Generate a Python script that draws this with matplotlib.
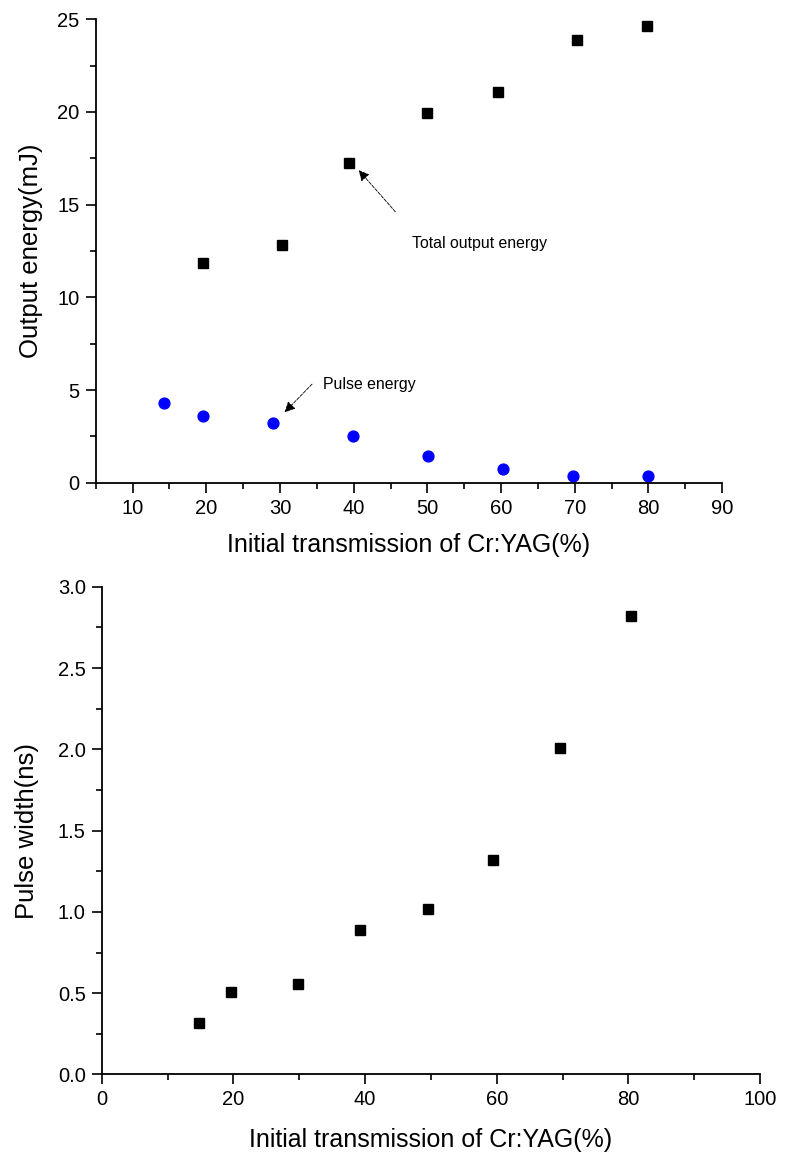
import matplotlib
matplotlib.use("Agg")
import matplotlib.pyplot as plt
from matplotlib.ticker import MultipleLocator

plt.rcParams["font.family"] = ["Liberation Sans", "DejaVu Sans"]

# top panel: output energy vs initial transmission
total_x = [19.6, 30.3, 39.4, 50.0, 59.6, 70.3, 79.8]
total_energy = [11.86, 12.8, 17.25, 19.93, 21.05, 23.9, 24.62]

pulse_x = [14.3, 19.6, 29.1, 39.9, 50.05, 60.2, 69.7, 79.9]
pulse_energy = [4.31, 3.6, 3.23, 2.52, 1.46, 0.72, 0.38, 0.38]

# bottom panel: pulse width vs initial transmission
width_x = [14.7, 19.6, 29.8, 39.2, 49.5, 59.5, 69.6, 80.4]
pulse_width = [0.315, 0.51, 0.557, 0.889, 1.018, 1.32, 2.008, 2.82]

xlabel = "Initial transmission of Cr:YAG(%)"


def style_axes(ax):
    for side in ("top", "right"):
        ax.spines[side].set_visible(False)
    for side in ("left", "bottom"):
        ax.spines[side].set_linewidth(1.3)
    ax.tick_params(which="major", direction="out", length=7.5, width=1.2,
                   labelsize=14.5, pad=4)
    ax.tick_params(which="minor", direction="out", length=4.5, width=1.2)


fig = plt.figure(figsize=(7.95, 11.53), dpi=100)

# ---- top ----
ax1 = fig.add_axes([0.1204, 0.5813, 0.788, 0.402])
ax1.plot(total_x, total_energy, "s", color="black", markersize=7.2, clip_on=False)
ax1.plot(pulse_x, pulse_energy, "o", color="blue", markersize=7.8, clip_on=False)
ax1.set_xlim(5, 90)
ax1.set_ylim(0, 25)
ax1.xaxis.set_major_locator(MultipleLocator(10))
ax1.xaxis.set_minor_locator(MultipleLocator(5))
ax1.yaxis.set_major_locator(MultipleLocator(5))
ax1.yaxis.set_minor_locator(MultipleLocator(2.5))
style_axes(ax1)
ax1.set_xlabel(xlabel, fontsize=18)
ax1.set_ylabel("Output energy(mJ)", fontsize=18.5)
ax1.xaxis.set_label_coords(0.5, -0.134)
ax1.xaxis.label.set_va("center")
ax1.yaxis.set_label_coords(-0.103, 0.5)
ax1.yaxis.label.set_va("center")

arrow = dict(arrowstyle="-|>", linestyle=(0, (4, 1.5)), lw=0.6, color="black",
             mutation_scale=16, shrinkA=0, shrinkB=0)
ax1.annotate("", xy=(40.68, 16.86), xytext=(45.67, 14.61), arrowprops=arrow)
ax1.text(47.9, 12.9, "Total output energy", fontsize=11.4, va="center", ha="left")
ax1.annotate("", xy=(30.63, 3.8), xytext=(34.35, 5.32), arrowprops=arrow)
ax1.text(35.8, 5.32, "Pulse energy", fontsize=11.4, va="center", ha="left")

# ---- bottom ----
ax2 = fig.add_axes([0.128, 0.0681, 0.828, 0.423])
ax2.plot(width_x, pulse_width, "s", color="black", markersize=7.6, clip_on=False)
ax2.set_xlim(0, 100)
ax2.set_ylim(0, 3.0)
ax2.xaxis.set_major_locator(MultipleLocator(20))
ax2.xaxis.set_minor_locator(MultipleLocator(10))
ax2.yaxis.set_major_locator(MultipleLocator(0.5))
ax2.yaxis.set_minor_locator(MultipleLocator(0.25))
ax2.yaxis.set_major_formatter(matplotlib.ticker.FormatStrFormatter("%.1f"))
style_axes(ax2)
ax2.set_xlabel(xlabel, fontsize=18)
ax2.set_ylabel("Pulse width(ns)", fontsize=18.5)
ax2.xaxis.set_label_coords(0.5, -0.134)
ax2.xaxis.label.set_va("center")
ax2.yaxis.set_label_coords(-0.113, 0.5)
ax2.yaxis.label.set_va("center")

fig.savefig("out.png", dpi=100)
